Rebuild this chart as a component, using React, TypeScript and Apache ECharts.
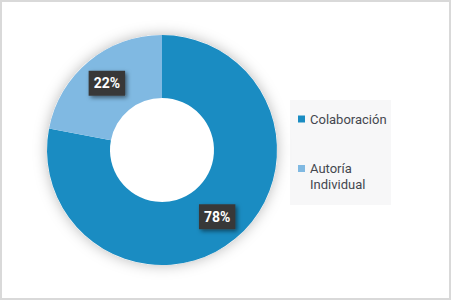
import React, { useEffect, useRef } from "react";
import * as echarts from "echarts";

const categories = ["Colaboración", "Autoría Individual"];
const values = [78, 22];
const colors = ["#1a8cc2", "#80b9e2"];

export default function App() {
  const ref = useRef<HTMLDivElement>(null);
  useEffect(() => {
    document.body.style.margin = "0";
    const chart = echarts.init(ref.current!, null, { renderer: "svg" });
    const font = "Roboto, 'Open Sans', sans-serif";
    chart.setOption({
      animation: false,
      backgroundColor: "#ffffff",
      graphic: [
        {
          type: "rect",
          shape: { x: 1, y: 1, width: 449, height: 298 },
          style: { fill: "none", stroke: "#d9d9d9", lineWidth: 2 },
          silent: true,
        },
        {
          type: "rect",
          shape: { x: 290, y: 100, width: 101, height: 105 },
          style: { fill: "#f7f7f8" },
          silent: true,
        },
      ],
      legend: {
        orient: "vertical",
        left: 298,
        top: 111,
        padding: 0,
        itemGap: 17.5,
        itemWidth: 7,
        itemHeight: 7,
        icon: "rect",
        selectedMode: false,
        textStyle: {
          fontFamily: font,
          fontSize: 13,
          lineHeight: 16,
          color: "#44474f",
        },
        // second item: a leading blank line keeps the marker level with the first text line
        formatter: (name: string) =>
          name === categories[1] ? "\n" + name.replace(" ", "\n") : name,
        data: categories.map((c) => ({ name: c })),
      },
      series: [
        {
          type: "pie",
          silent: true,
          center: [162, 150],
          radius: [0, 115],
          z: 1,
          label: { show: false },
          itemStyle: {
            color: "#ffffff",
            shadowBlur: 14,
            shadowColor: "rgba(0,0,0,0.28)",
          },
          data: [{ value: 1, name: "" }],
        },
        {
          type: "pie",
          center: [162, 150],
          radius: [52, 115],
          startAngle: 90,
          clockwise: true,
          z: 2,
          label: {
            show: true,
            position: "inside",
            formatter: "{c}%",
            color: "#ffffff",
            fontFamily: font,
            fontWeight: "bold",
            fontSize: 14,
            lineHeight: 17,
            backgroundColor: "#383838",
            padding: [4, 5, 4, 5],
            shadowBlur: 4,
            shadowColor: "rgba(0,0,0,0.5)",
            shadowOffsetX: 2,
            shadowOffsetY: 2,
          },
          labelLine: { show: false },
          emphasis: { disabled: true },
          data: categories.map((c, i) => ({
            name: c,
            value: values[i],
            itemStyle: { color: colors[i] },
          })),
        },
      ],
    });
    return () => chart.dispose();
  }, []);
  return (
    <div
      ref={ref}
      style={{ position: "absolute", left: 0, top: 0, width: 452, height: 301 }}
    />
  );
}
